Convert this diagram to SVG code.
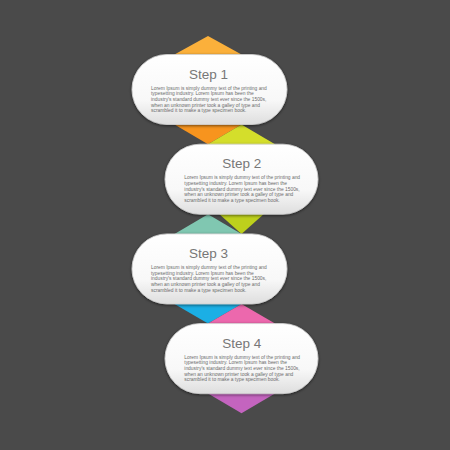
<svg xmlns="http://www.w3.org/2000/svg" width="450" height="450" viewBox="0 0 450 450">
  <defs>
    <linearGradient id="pillGrad" x1="0" y1="0" x2="0" y2="1">
      <stop offset="0" stop-color="#ffffff"/>
      <stop offset="0.65" stop-color="#f8f8f8"/>
      <stop offset="1" stop-color="#dedede"/>
    </linearGradient>
    <filter id="shadow" x="-10%" y="-20%" width="120%" height="140%">
      <feDropShadow dx="0" dy="1" stdDeviation="1.4" flood-color="#000" flood-opacity="0.55"/>
    </filter>
    <style>
      .pill { fill: url(#pillGrad); stroke: #d2d2d2; stroke-width: 0.8; filter: url(#shadow); }
      .title { font-family: "Liberation Sans", Arial, sans-serif; font-size: 13.5px; fill: #777777; text-anchor: middle; }
      .body { font-family: "Liberation Sans", Arial, sans-serif; font-size: 4.9px; fill: #6c6c6c; }
    </style>
  </defs>
  <rect width="450" height="450" fill="#4a4a4a"/>

  <g id="connectors">
    <!-- step 1: orange -->
    <polygon points="208,36 241.5,54.5 241.5,90 174.5,90 174.5,54.5" fill="#FBB03B"/>
    <polygon points="174.5,90 241.5,90 241.5,124.5 208,144.2 174.5,124.5" fill="#F7941E"/>
    <!-- step 2: yellow-green -->
    <polygon points="241.5,124.5 275,144.2 275,179 208,179 208,144.2" fill="#D4DE2B"/>
    <polygon points="208,179 275,179 275,203.9 241.5,233.9 208,203.9" fill="#BDD01C"/>
    <!-- step 3: teal / blue -->
    <polygon points="208,214.2 241.5,233.9 241.5,269 174.5,269 174.5,233.9" fill="#80C7B1"/>
    <polygon points="174.5,269 241.5,269 241.5,303.9 208,323.6 174.5,303.9" fill="#1BAFE5"/>
    <!-- step 4: pink / purple -->
    <polygon points="241.5,303.9 275,323.6 275,358.6 208,358.6 208,323.6" fill="#EC68AD"/>
    <polygon points="208,358.6 275,358.6 275,393.6 241.5,413.3 208,393.6" fill="#C464BF"/>
  </g>

  <g id="step1">
    <rect class="pill" x="132" y="54.5" width="155" height="70" rx="35" ry="35"/>
    <text class="title" x="208.5" y="78.7">Step 1</text>
    <text class="body" x="151" y="89.7">Lorem Ipsum is simply dummy text of the printing and</text>
    <text class="body" x="151" y="95.3">typesetting industry. Lorem Ipsum has been the</text>
    <text class="body" x="151" y="100.9">industry's standard dummy text ever since the 1500s,</text>
    <text class="body" x="151" y="106.5">when an unknown printer took a galley of type and</text>
    <text class="body" x="151" y="112.1">scrambled it to make a type specimen book.</text>
  </g>

  <g id="step2">
    <rect class="pill" x="165" y="144.2" width="153" height="70" rx="35" ry="35"/>
    <text class="title" x="241.7" y="168.4">Step 2</text>
    <text class="body" x="184.3" y="179.4">Lorem Ipsum is simply dummy text of the printing and</text>
    <text class="body" x="184.3" y="185">typesetting industry. Lorem Ipsum has been the</text>
    <text class="body" x="184.3" y="190.6">industry's standard dummy text ever since the 1500s,</text>
    <text class="body" x="184.3" y="196.2">when an unknown printer took a galley of type and</text>
    <text class="body" x="184.3" y="201.8">scrambled it to make a type specimen book.</text>
  </g>

  <g id="step3">
    <rect class="pill" x="132" y="233.9" width="155" height="70" rx="35" ry="35"/>
    <text class="title" x="208.5" y="258.1">Step 3</text>
    <text class="body" x="151" y="269.1">Lorem Ipsum is simply dummy text of the printing and</text>
    <text class="body" x="151" y="274.7">typesetting industry. Lorem Ipsum has been the</text>
    <text class="body" x="151" y="280.3">industry's standard dummy text ever since the 1500s,</text>
    <text class="body" x="151" y="285.9">when an unknown printer took a galley of type and</text>
    <text class="body" x="151" y="291.5">scrambled it to make a type specimen book.</text>
  </g>

  <g id="step4">
    <rect class="pill" x="165" y="323.6" width="153" height="70" rx="35" ry="35"/>
    <text class="title" x="241.7" y="347.8">Step 4</text>
    <text class="body" x="184.3" y="358.8">Lorem Ipsum is simply dummy text of the printing and</text>
    <text class="body" x="184.3" y="364.4">typesetting industry. Lorem Ipsum has been the</text>
    <text class="body" x="184.3" y="370">industry's standard dummy text ever since the 1500s,</text>
    <text class="body" x="184.3" y="375.6">when an unknown printer took a galley of type and</text>
    <text class="body" x="184.3" y="381.2">scrambled it to make a type specimen book.</text>
  </g>
</svg>
